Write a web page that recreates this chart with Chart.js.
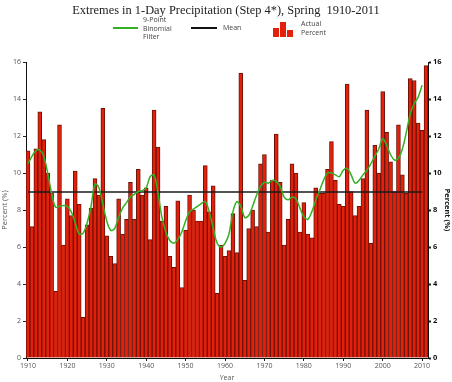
<!DOCTYPE html>
<html>
<head>
<meta charset="utf-8">
<script src="https://cdn.jsdelivr.net/npm/chart.js@4"></script>
<style>
  html, body { margin:0; padding:0; background:#fff; }
  #wrap { position:relative; width:452px; height:382px; overflow:hidden; }
  #c { position:absolute; left:0; top:0; }
  .title { position:absolute; left:0; top:3px; width:452px; text-align:center;
           font:12.4px 'Liberation Serif', serif; color:#222; white-space:pre; }
  .lg { position:absolute; font:7px 'Open Sans', sans-serif; color:#444; line-height:8.5px; }
  .sw { position:absolute; height:2px; }
  .rb { position:absolute; background:#e3200b; bottom:0; }
</style>
</head>
<body>
<div id="wrap">
  <canvas id="c" width="452" height="382"></canvas>
  <div class="title">Extremes in 1-Day Precipitation (Step 4*), Spring  1910-2011</div>

  <!-- legend -->
  <div class="sw" style="left:113px;top:27px;width:25px;background:#33b024"></div>
  <div class="lg" style="left:143px;top:16px">9-Point<br>Binomial<br>Filter</div>
  <div class="sw" style="left:191px;top:27px;width:26px;background:#111"></div>
  <div class="lg" style="left:223px;top:24px">Mean</div>
  <div style="position:absolute;left:273px;top:22px;width:20px;height:15px">
    <div class="rb" style="left:0;width:6px;height:9px"></div>
    <div class="rb" style="left:7px;width:6px;height:15px"></div>
    <div class="rb" style="left:14px;width:6px;height:7px"></div>
  </div>
  <div class="lg" style="left:301px;top:20px">Actual<br>Percent</div>
</div>

<script>
// ── Data ──────────────────────────────────────────────────────────────────────
const years = [
  1910,1911,1912,1913,1914,1915,1916,1917,1918,1919,
  1920,1921,1922,1923,1924,1925,1926,1927,1928,1929,
  1930,1931,1932,1933,1934,1935,1936,1937,1938,1939,
  1940,1941,1942,1943,1944,1945,1946,1947,1948,1949,
  1950,1951,1952,1953,1954,1955,1956,1957,1958,1959,
  1960,1961,1962,1963,1964,1965,1966,1967,1968,1969,
  1970,1971,1972,1973,1974,1975,1976,1977,1978,1979,
  1980,1981,1982,1983,1984,1985,1986,1987,1988,1989,
  1990,1991,1992,1993,1994,1995,1996,1997,1998,1999,
  2000,2001,2002,2003,2004,2005,2006,2007,2008,2009,
  2010,2011
];

// actual percent (red bars)
const actualPct = [
  11.2, 7.1,11.3,13.3,11.8,10.0, 8.9, 3.6,12.6, 6.1,
   8.6, 7.7,10.1, 8.3, 2.2, 7.2, 8.1, 9.7, 8.8,13.5,
   6.6, 5.5, 5.1, 8.6, 6.7, 7.5, 9.5, 7.5,10.2, 8.8,
   9.2, 6.4,13.4,11.4, 7.4, 8.2, 5.5, 4.9, 8.5, 3.8,
   6.9, 8.8, 8.0, 7.4, 7.4,10.4, 7.9, 9.3, 3.5, 6.1,
   5.5, 5.8, 7.8, 5.7,15.4, 4.2, 7.0, 8.0, 7.1,10.5,
  11.0, 6.8, 9.6,12.1, 9.5, 6.1, 7.5,10.5,10.0, 6.8,
   8.4, 6.7, 6.5, 9.2, 8.9, 8.9,10.2,11.7, 9.6, 8.3,
   8.2,14.8, 9.0, 7.7, 8.2, 9.7,13.4, 6.2,11.5,10.0,
  14.4,12.2,10.6, 9.0,12.6, 9.9, 8.9,15.1,15.0,12.7,
  12.3,15.8
];

// 9-point binomial filter (green line)
const filterPct = [
  10.5,10.9,11.2,11.25,10.9,10.0, 8.9, 8.15, 8.2, 8.25,
   8.2, 7.9, 7.3, 6.7, 6.75, 7.3, 8.2, 9.4, 9.2, 8.3,
   7.4, 6.9, 7.0, 7.6, 8.1, 8.4, 8.7, 8.85, 9.0, 9.05,
   9.2, 9.8, 9.9, 8.9, 7.6, 6.8, 6.35, 6.2, 6.4, 6.8,
   7.4, 7.9, 8.05, 8.2, 8.35, 8.45, 7.9, 7.0, 6.2, 6.0,
   6.2, 6.7, 7.9, 8.45, 8.2, 7.6, 7.7, 8.2, 8.8, 9.26,
   9.5, 9.45, 9.6, 9.55, 9.26, 8.7, 8.55, 8.7, 8.6, 8.1,
   7.65, 7.5, 7.9, 8.5, 9.05, 9.6,10.0,10.0, 9.9, 9.8,
  10.15,10.25,9.9, 9.45, 9.6, 9.9,10.15,10.5,10.9,11.3,
  11.85,11.5,11.0,10.7,10.8,11.3,12.2,13.2,13.75,14.1,
  14.75, null
];

const meanPct = 8.97;
const yTicks = [0,2,4,6,8,10,12,14,16];

// ── Chart ─────────────────────────────────────────────────────────────────────
const tickFont = { family:"'Open Sans', sans-serif", size:7 };
const yScale = (pos, bold) => ({
  position:pos, min:0, max:16,
  afterBuildTicks: s => { s.ticks = yTicks.map(v => ({ value:v })); },
  afterFit: s => { s.width = pos === 'left' ? 26 : 24; },
  ticks:{ color: bold ? '#111' : '#555', font:{...tickFont, weight: bold ? 'bold' : 'normal', size: bold ? 7.5 : 7}, padding:2 },
  grid:{ drawOnChartArea:false, tickLength:3, color:'#222', tickWidth: bold ? 2 : 1 },
  border:{ display:true, color:'#111', width:1 },
  title:{ display:true, text:'Percent (%)', color: bold ? '#111' : '#555',
          font:{...tickFont, size:7.5, weight: bold ? 'bold' : 'normal'}, padding:{top:0, bottom:0} }
});

new Chart(document.getElementById('c').getContext('2d'), {
  data:{
    labels: years,
    datasets:[
      { type:'line', label:'9-Point Binomial Filter', data:filterPct, order:1,
        borderColor:'#33b024', borderWidth:1.5, pointRadius:0, tension:0.35, yAxisID:'y' },
      { type:'line', label:'Mean', order:2,
        data:[{x:years[0], y:meanPct}, {x:years[years.length-2], y:meanPct}],
        borderColor:'#1a1a1a', borderWidth:1.6, pointRadius:0, yAxisID:'y' },
      { type:'bar', label:'Actual Percent', data:actualPct, order:3,
        backgroundColor:'#e3200b', borderColor:'#6e1208', borderWidth:1,
        barPercentage:1, categoryPercentage:1, yAxisID:'y' }
    ]
  },
  options:{
    responsive:false, animation:false, devicePixelRatio:1,
    layout:{ padding:{ top:62, left:0, right:0, bottom:0 } },
    plugins:{ legend:{ display:false }, tooltip:{ enabled:false } },
    scales:{
      x:{
        offset:true,
        afterBuildTicks: s => { s.ticks = s.ticks.filter(t => years[t.value] % 10 === 0); },
        afterFit: s => { s.height = 24; },
        ticks:{ color:'#555', font:tickFont, padding:1, maxRotation:0, autoSkip:false },
        grid:{ drawOnChartArea:false, offset:false, tickLength:3, color:'#222' },
        border:{ display:true, color:'#111' },
        title:{ display:true, text:'Year', color:'#555', font:tickFont, padding:{top:0, bottom:0} }
      },
      y: yScale('left', false),
      y2: yScale('right', true)
    }
  }
});
</script>
</body>
</html>
